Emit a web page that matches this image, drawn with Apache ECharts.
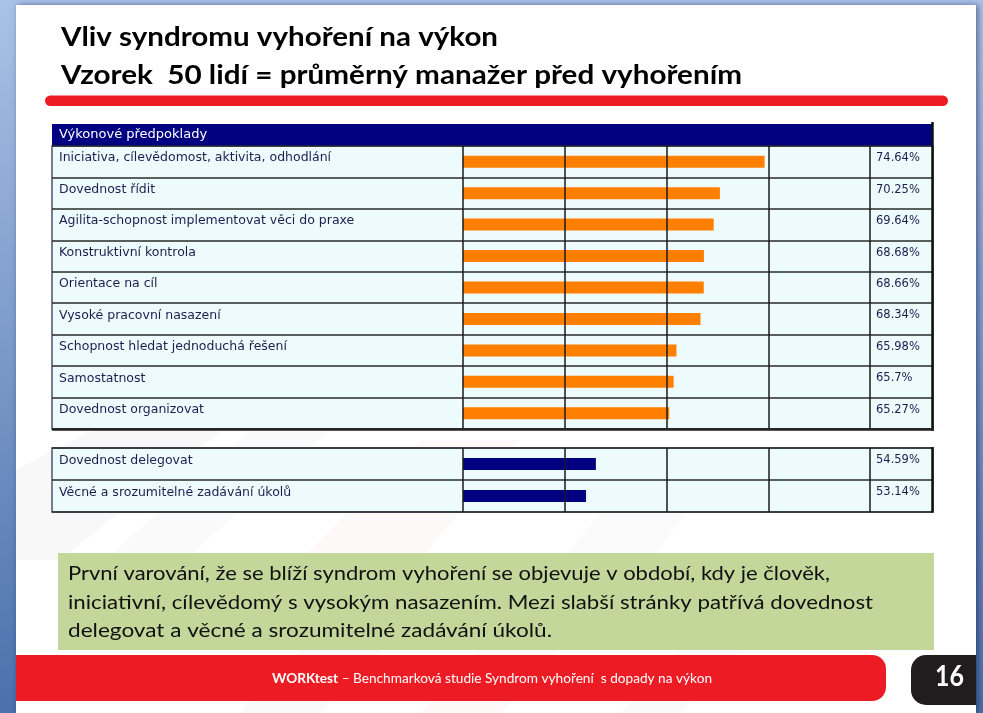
<!DOCTYPE html>
<html><head><meta charset="utf-8">
<script src="https://cdn.jsdelivr.net/npm/echarts@6/dist/echarts.min.js"></script>
<style>html,body{margin:0;padding:0;background:#fff;overflow:hidden}#c{width:983px;height:713px}</style>
</head><body><div id="c"></div>
<script>
// ---- data ----
const titleLines = ['Vliv syndromu vyhoření na výkon', 'Vzorek  50 lidí = průměrný manažer před vyhořením'];
const tableHeader = 'Výkonové předpoklady';
const strengthLabels = [
  'Iniciativa, cílevědomost, aktivita, odhodlání',
  'Dovednost řídit',
  'Agilita-schopnost implementovat věci do praxe',
  'Konstruktivní kontrola',
  'Orientace na cíl',
  'Vysoké pracovní nasazení',
  'Schopnost hledat jednoduchá řešení',
  'Samostatnost',
  'Dovednost organizovat'
];
const strengthValues = [74.64, 70.25, 69.64, 68.68, 68.66, 68.34, 65.98, 65.7, 65.27];
const weaknessLabels = ['Dovednost delegovat', 'Věcné a srozumitelné zadávání úkolů'];
const weaknessValues = [54.59, 53.14];
const noteLines = [
  'První varování, že se blíží syndrom vyhoření se objevuje v období, kdy je člověk,',
  'iniciativní, cílevědomý s vysokým nasazením. Mezi slabší stránky patřívá dovednost',
  'delegovat a věcné a srozumitelné zadávání úkolů.'
];
const footerBold = 'WORKtest';
const footerRest = ' – Benchmarková studie Syndrom vyhoření  s dopady na výkon';
const pageNumber = '16';

// ---- helpers ----
const ctx = document.createElement('canvas').getContext('2d');
function measure(text, size, family, weight) {
  ctx.font = (weight || 'normal') + ' ' + size + 'px ' + family;
  return ctx.measureText(text).width;
}
const LAB = '"DejaVu Sans", Verdana, sans-serif';
const CAL = 'Lato, "Open Sans", sans-serif';
const textColor = '#1a1f4e';

function fitText(text, x, y, size, weight, target, color, z) {
  const w = measure(text, size, CAL, weight);
  return {
    type: 'text', x: x, y: y, scaleX: target / w, z: z || 5, silent: true,
    style: { text: text, fontSize: size, fontFamily: CAL, fontWeight: weight, fill: color, align: 'left', verticalAlign: 'middle' }
  };
}
function band(points, color, opacity) {
  return { type: 'polygon', z: -18, silent: true, shape: { points: points }, style: { fill: color, opacity: opacity } };
}

const noteTargets = [762, 805, 484];
const graphics = [
  // page background / frame
  { type: 'rect', z: -20, silent: true, shape: { x: 0, y: 0, width: 983, height: 713 },
    style: { fill: new echarts.graphic.LinearGradient(0, 0, 0, 1, [{ offset: 0, color: '#a9c2e6' }, { offset: 1, color: '#4b70ab' }]) } },
  { type: 'rect', z: -19, silent: true, shape: { x: 16, y: 5, width: 960, height: 708 },
    style: { fill: '#ffffff', shadowBlur: 6, shadowColor: 'rgba(0,0,40,0.45)', shadowOffsetX: 2 } },
  // faint watermark bands
  band([[16, 560], [16, 470], [150, 400], [260, 400], [60, 560]], '#9a9a9a', 0.07),
  band([[60, 600], [250, 430], [330, 430], [140, 600]], '#9a9a9a', 0.05),
  band([[300, 560], [420, 440], [520, 440], [420, 560]], '#e04040', 0.03),
  band([[560, 560], [640, 470], [720, 470], [650, 560]], '#9a9a9a', 0.04),
  band([[240, 713], [300, 650], [380, 650], [320, 713]], '#9a9a9a', 0.06),
  band([[420, 713], [480, 650], [560, 650], [500, 713]], '#e04040', 0.03),
  band([[620, 713], [680, 650], [740, 650], [680, 713]], '#9a9a9a', 0.05),
  // red rule under the title
  { type: 'rect', z: 2, silent: true, shape: { x: 45, y: 95.5, width: 903, height: 10.5, r: 5.25 }, style: { fill: '#ed1c24' } },
  // table header
  { type: 'rect', z: 1, silent: true, shape: { x: 52, y: 124, width: 881, height: 22 }, style: { fill: '#000080' } },
  { type: 'text', z: 3, silent: true, x: 59, y: 134.5,
    style: { text: tableHeader, fontSize: 13, fontFamily: LAB, fill: '#ffffff', align: 'left', verticalAlign: 'middle' } },
  // heavy borders
  { type: 'line', z: 10, silent: true, shape: { x1: 932.5, y1: 122, x2: 932.5, y2: 431 }, style: { stroke: '#111', lineWidth: 2.5 } },
  { type: 'line', z: 10, silent: true, shape: { x1: 52, y1: 429.5, x2: 933.5, y2: 429.5 }, style: { stroke: '#222', lineWidth: 2.5 } },
  { type: 'line', z: 10, silent: true, shape: { x1: 932.5, y1: 447, x2: 932.5, y2: 512.5 }, style: { stroke: '#111', lineWidth: 2.5 } },
  // note box
  { type: 'rect', z: 1, silent: true, shape: { x: 58, y: 553, width: 876, height: 97 }, style: { fill: '#c4d79b' } },
  // footer
  { type: 'rect', z: 1, silent: true, shape: { x: 16, y: 655, width: 870, height: 46, r: [0, 14, 14, 0] }, style: { fill: '#ed1c24' } },
  { type: 'rect', z: 1, silent: true, shape: { x: 911, y: 655, width: 65, height: 50, r: [15, 0, 0, 15] }, style: { fill: '#1f1d1e' } }
];

// titles
graphics.push(fitText(titleLines[0], 61, 37.5, 26.5, 'bold', 437, '#000000'));
graphics.push(fitText(titleLines[1], 61, 75.5, 26.5, 'bold', 681, '#000000'));
// note text
noteLines.forEach(function (t, i) {
  graphics.push(fitText(t, 68, 574 + i * 28.6, 19.5, 'normal', noteTargets[i], '#111111'));
});
// footer text (rich)
(function () {
  const wb = measure(footerBold, 13, CAL, 'bold');
  const wr = measure(footerRest, 13, CAL, 'normal');
  const s = 440 / (wb + wr);
  graphics.push({
    type: 'text', z: 5, silent: true, x: 272, y: 679, scaleX: s,
    style: { text: '{b|' + footerBold + '}{n|' + footerRest + '}', fill: '#ffffff', align: 'left', verticalAlign: 'middle',
      rich: { b: { fontSize: 13, fontFamily: CAL, fontWeight: 'bold', fill: '#ffffff' }, n: { fontSize: 13, fontFamily: CAL, fill: '#ffffff' } } }
  });
})();
// page number
(function () {
  const w = measure(pageNumber, 28, CAL, 'bold');
  graphics.push({ type: 'text', z: 5, silent: true, x: 935, y: 677, scaleX: 29 / w,
    style: { text: pageNumber, fontSize: 28, fontFamily: CAL, fontWeight: 'bold', fill: '#ffffff', align: 'left', verticalAlign: 'middle' } });
})();

function labelAxis(grid, data) {
  return {
    gridIndex: grid, type: 'category', data: data, inverse: true, z: 5,
    axisLine: { show: false }, axisTick: { show: false },
    splitLine: { show: true, lineStyle: { color: '#2a2a2a', width: 1.5 } },
    axisLabel: { inside: true, interval: 0, margin: 7, color: textColor, fontFamily: LAB, fontSize: 12.5,
      verticalAlign: 'bottom', lineHeight: 7 }
  };
}
function valueLabelAxis(grid, data, values) {
  return {
    gridIndex: grid, type: 'category', data: data, inverse: true, position: 'right', z: 5,
    axisLine: { show: false }, axisTick: { show: false }, splitLine: { show: false },
    axisLabel: { interval: 0, margin: 6, color: textColor, fontFamily: LAB, fontSize: 11.5,
      verticalAlign: 'bottom', lineHeight: 7,
      formatter: function (v, i) { return values[i] + '%'; } }
  };
}
function barAxis(grid, min, max, interval) {
  return {
    gridIndex: grid, type: 'value', min: min, max: max, interval: interval, z: 5,
    axisLine: { show: false }, axisTick: { show: false }, axisLabel: { show: false },
    splitLine: { show: true, lineStyle: { color: '#1a1a1a', width: 1.5 } }
  };
}
const tableGrid = { show: true, backgroundColor: '#edfbfd', borderColor: '#4a5472', borderWidth: 1.5, z: 0 };

const option = {
  animation: false,
  backgroundColor: 'transparent',
  graphic: { elements: graphics },
  grid: [
    Object.assign({ left: 52, top: 146, width: 881, height: 283 }, tableGrid),
    { left: 463, top: 146, width: 407, height: 283 },
    Object.assign({ left: 52, top: 448, width: 881, height: 64 }, tableGrid),
    { left: 463, top: 448, width: 407, height: 64 }
  ],
  xAxis: [
    { gridIndex: 0, type: 'value', show: false, min: 0, max: 1 },
    barAxis(1, 45, 85, 10),
    { gridIndex: 2, type: 'value', show: false, min: 0, max: 1 },
    barAxis(3, 35, 95, 15)
  ],
  yAxis: [
    labelAxis(0, strengthLabels),
    valueLabelAxis(1, strengthLabels, strengthValues),
    labelAxis(2, weaknessLabels),
    valueLabelAxis(3, weaknessLabels, weaknessValues)
  ],
  series: [
    { type: 'bar', xAxisIndex: 1, yAxisIndex: 1, data: strengthValues, barWidth: 12, z: 2, silent: true, itemStyle: { color: '#ff8000' } },
    { type: 'bar', xAxisIndex: 3, yAxisIndex: 3, data: weaknessValues, barWidth: 12, z: 2, silent: true, itemStyle: { color: '#000080' } }
  ]
};
const chart = echarts.init(document.getElementById('c'), null, { renderer: 'canvas', width: 983, height: 713 });
chart.setOption(option);
</script></body></html>
